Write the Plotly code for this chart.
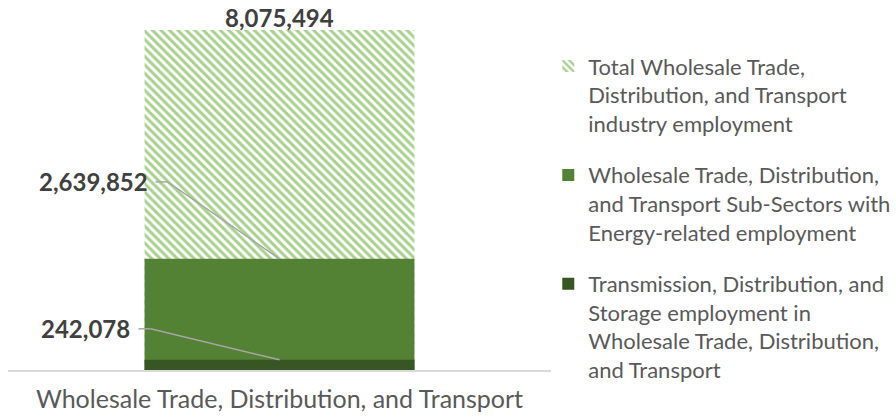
import plotly.graph_objects as go

# Employment figures for the single industry category
category = ["Wholesale Trade, Distribution, and Transport"]
series_names = [
    "Total Wholesale Trade,<br>Distribution, and Transport<br>industry employment",
    "Wholesale Trade, Distribution,<br>and Transport Sub-Sectors with<br>Energy-related employment",
    "Transmission, Distribution, and<br>Storage employment in<br>Wholesale Trade, Distribution,<br>and Transport",
]
total_employment = [8075494]
energy_subsector_employment = [2639852]
tds_employment = [242078]

LIGHT = "#a9d18e"
MID = "#548235"
DARK = "#375623"
TEXT = "#595959"
LABEL = "#404040"
FONT = "Lato"

fig = go.Figure()

fig.add_trace(go.Bar(
    x=category, y=total_employment, name=series_names[0], width=0.497,
    legendgroup="a",
    marker=dict(color="white", line=dict(width=0),
                pattern=dict(shape="\\", fgcolor=LIGHT, bgcolor="white",
                             fgopacity=1, size=6, solidity=0.5)),
))
fig.add_trace(go.Bar(
    x=category, y=energy_subsector_employment, name=series_names[1], width=0.497,
    legendgroup="b", marker=dict(color=MID, line=dict(width=0)),
))
fig.add_trace(go.Bar(
    x=category, y=tds_employment, name=series_names[2], width=0.497,
    legendgroup="c", marker=dict(color=DARK, line=dict(width=0)),
))

ymax = total_employment[0]
px_per_unit_y = 340 / ymax      # plot height in px over the value range
px_per_unit_x = 543             # plot width in px over one category slot


def dx(px):
    return px / px_per_unit_x


def dy(px):
    return px / px_per_unit_y


annotations = [
    dict(x=0, y=total_employment[0], text=f"<b>{total_employment[0]:,}</b>",
         showarrow=False, yanchor="bottom", yshift=-4,
         font=dict(family=FONT, size=24, color=LABEL)),
]
shapes = []

# Labels for the two lower series sit to the left, joined by elbow leaders
for val, lift, lx, tx in [
    (energy_subsector_employment[0], 77, -112, -130),
    (tds_employment[0], 31, -129, -148),
]:
    sy = val + dy(lift)
    annotations.append(dict(
        x=dx(tx), y=sy, text=f"<b>{val:,}</b>", showarrow=False,
        xanchor="right", yanchor="middle",
        font=dict(family=FONT, size=24, color=LABEL)))
    shapes.append(dict(type="line", xref="x", yref="y",
                       x0=dx(lx - 12), y0=sy, x1=dx(lx), y1=sy,
                       line=dict(color="#a6a6a6", width=1.5)))
    shapes.append(dict(type="line", xref="x", yref="y",
                       x0=dx(lx), y0=sy, x1=0, y1=val,
                       line=dict(color="#a6a6a6", width=1.5)))

fig.update_layout(
    width=896, height=418,
    margin=dict(l=8, r=345, t=30, b=48, autoexpand=False),
    barmode="overlay",
    paper_bgcolor="white", plot_bgcolor="white",
    font=dict(family=FONT, color=TEXT),
    xaxis=dict(type="category", range=[-0.5, 0.5], showline=True,
               linecolor="#d9d9d9", linewidth=1.5, ticks="",
               automargin=False, ticklabelstandoff=6,
               tickfont=dict(family=FONT, size=25, color=TEXT)),
    yaxis=dict(range=[0, ymax], visible=False, showgrid=False, zeroline=False,
               automargin=False),
    legend=dict(x=0.995, xanchor="left", y=0.955, yanchor="top",
                valign="top", tracegroupgap=20, traceorder="grouped",
                maxheight=418,
                font=dict(family=FONT, size=22, color=TEXT),
                bgcolor="rgba(0,0,0,0)"),
    annotations=annotations,
    shapes=shapes,
)

fig.write_html("out.html")
